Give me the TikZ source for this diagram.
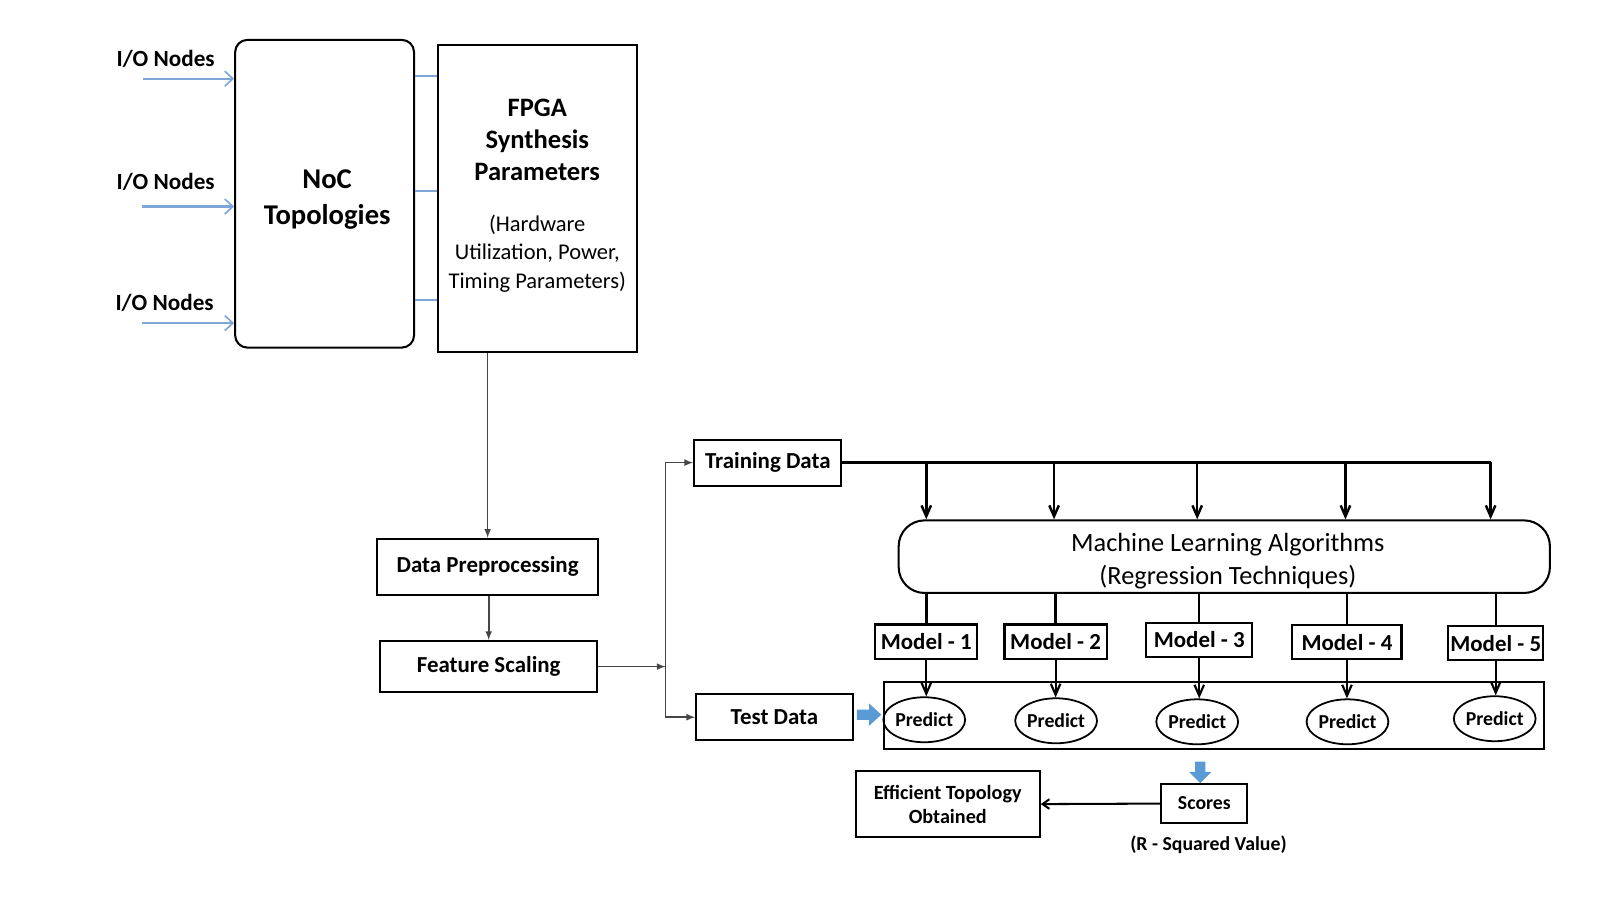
\documentclass[tikz,border=0pt]{standalone}
\usepackage{fontspec}
\setmainfont{Carlito}
\usetikzlibrary{arrows}
\usetikzlibrary{arrows.meta}
\usetikzlibrary{shapes.geometric}
\usetikzlibrary{positioning}
\definecolor{iocolor}{RGB}{127,166,216}
\definecolor{blockblue}{RGB}{91,155,213}

\begin{document}
\begin{tikzpicture}[x=0.75pt,y=0.75pt,yscale=-1,xscale=1,
  plainbox/.style={draw, line width=1.5pt, inner sep=0pt, align=center, font=\fontsize{16.8}{20}\selectfont\bfseries},
  modelbox/.style={plainbox, minimum width=75pt, minimum height=25pt},
  predict/.style={draw, ellipse, line width=1.3pt, minimum width=51pt, minimum height=33pt, inner sep=0pt, font=\fontsize{14.5}{16}\selectfont\bfseries},
  iolabel/.style={inner sep=0.75pt, font=\fontsize{17}{20}\selectfont\bfseries},
  ioarrow/.style={draw=iocolor, line width=1.6pt, -{Straight Barb[length=6pt, width=11pt, line width=1.2pt]}},
  iolink/.style={draw=iocolor, line width=1.5pt},
  grayarrow/.style={draw=gray!55!black, line width=1.2pt, -latex},
  blkarrow/.style={line width=1.8pt, -{Straight Barb[length=8pt, width=7pt]}},
  blkline/.style={line width=1.8pt},
  blockarrow/.style={fill=blockblue, draw=none}]
\path[use as bounding box] (0,0) rectangle (1565,880);

%Shape: Rounded Rect [id:noc]
\node[plainbox, rounded corners=9pt, minimum width=131.25pt, minimum height=225.75pt] (noc) at (317.5,189.5) {};
% Text Node
\node[align=center, inner sep=0.75pt, font=\fontsize{21}{26.5}\selectfont\bfseries] (noctext) at (320,195) {NoC\\Topologies};
%Shape: Rectangle [id:fpga]
\node[plainbox, minimum width=146.25pt, minimum height=225pt] (fpga) at (525.5,194) {};
% Text Node
\node[align=center, inner sep=0.75pt, font=\fontsize{19.5}{23.3}\selectfont\bfseries] (fpgatitle) at (525.5,137) {FPGA\\Synthesis\\Parameters};
% Text Node
\node[align=center, inner sep=0.75pt, font=\fontsize{16.5}{21}\selectfont] (fpgasub) at (525.5,248) {(Hardware\\Utilization, Power,\\Timing Parameters)};

% Text Node
\node[iolabel] (io1) at (162,58) {I/O Nodes};
\node[iolabel] (io2) at (162,178) {I/O Nodes};
\node[iolabel] (io3) at (161,296) {I/O Nodes};
\coordinate (in1) at (140,77);
\coordinate (in2) at (139,202);
\coordinate (in3) at (139,316);
%Straight Lines [id:io]
\draw[ioarrow] (in1) -- (in1 -| noc.west);
\draw[ioarrow] (in2) -- (in2 -| noc.west);
\draw[ioarrow] (in3) -- (in3 -| noc.west);
%Straight Lines [id:links]
\foreach \y in {74,187,293}
  \draw[iolink] (noc.east |- 0,\y) -- (fpga.west |- 0,\y);

%Shape: Rectangle [id:prep]
\node[plainbox, minimum width=162pt, minimum height=41.25pt] (prep) at (477,554.5) {Data Preprocessing};
%Shape: Rectangle [id:scale]
\node[plainbox, minimum width=159pt, minimum height=37.5pt] (scale) at (478,652) {Feature Scaling};
%Shape: Rectangle [id:train]
\node[plainbox, minimum width=108pt, minimum height=33.75pt] (train) at (751,452.5) {Training Data};
%Shape: Rectangle [id:test]
\node[plainbox, minimum width=114.75pt, minimum height=33.75pt] (test) at (757.5,701.5) {Test Data};
\coordinate (split) at (651,652);

%Straight Lines [id:flow]
\draw[grayarrow] (prep.north |- fpga.south) -- (prep.north);
\draw[grayarrow] (scale.north |- prep.south) -- (scale.north);
\draw[grayarrow] (scale.east) -- (split);
\draw[grayarrow] (split) -- (split |- train) -- (train.west);
\draw[grayarrow] (split) -- (split |- test) -- (test.west);

%Shape: Rounded Rect [id:ml]
\node[plainbox, rounded corners=19pt, minimum width=477.75pt, minimum height=53.25pt] (ml) at (1197.5,544.5) {};
% Text Node
\node[align=center, inner sep=0.75pt, font=\fontsize{19.3}{24}\selectfont] (mltext) at (1201,549) {Machine Learning Algorithms\\(Regression Techniques)};

%Shape: Rectangle [id:models]
\node[modelbox] (m1) at (906,627.5) {Model - 1};
\node[modelbox] (m2) at (1032.5,627.5) {Model - 2};
\node[modelbox, minimum width=78pt] (m3) at (1173,626) {Model - 3};
\node[modelbox, minimum width=80pt] (m4) at (1317.5,628) {Model - 4};
\node[modelbox, minimum width=70pt] (m5) at (1463,629) {Model - 5};

%Shape: Rectangle [id:predbox]
\node[draw, line width=1.5pt, minimum width=483.75pt, minimum height=49.5pt] (predbox) at (1187.5,700) {};
%Shape: Ellipse [id:predict]
\node[predict] (p1) at (904,704) {Predict};
\node[predict] (p2) at (1033,705) {Predict};
\node[predict] (p3) at (1171,706) {Predict};
\node[predict] (p4) at (1318,706) {Predict};
\node[predict] (p5) at (1462,703) {Predict};

%Straight Lines [id:bus]
\coordinate (busend) at (1458,451.5);
\draw[blkline] (train.east) -- (train.east -| busend);
\foreach \x in {906,1031,1171,1316,1458}
  \draw[blkarrow] (\x,451.5) -- (ml.north -| \x,0);
\foreach \m in {1,...,5}
  \draw[blkline] (ml.south -| m\m.north) -- (m\m.north);
\foreach \m in {1,...,5}
  \draw[blkarrow, line width=1.6pt] (m\m.south) -- (m\m.south |- p\m.north);

%Shape: Right Arrow [id:blue1]
\fill[blockarrow] (838,694) -- (850,694) -- (850,688) -- (862,699) -- (850,710) -- (850,704) -- (838,704) -- cycle;
%Shape: Down Arrow [id:blue2]
\fill[blockarrow] (1169,745) -- (1179,745) -- (1179,755) -- (1185,755) -- (1174,766) -- (1163,755) -- (1169,755) -- cycle;

%Shape: Rectangle [id:eff]
\node[plainbox, minimum width=135pt, minimum height=48.75pt, font=\fontsize{14.8}{17.5}\selectfont\bfseries] (eff) at (927,786.5) {Efficient Topology\\Obtained};
%Shape: Rectangle [id:scores]
\node[plainbox, minimum width=63pt, minimum height=28.5pt, font=\fontsize{14.5}{17}\selectfont\bfseries] (scores) at (1178,786) {Scores};
\draw[line width=1.5pt, -{Straight Barb[length=5pt, width=7pt]}] (scores.west) -- (eff.east);
% Text Node
\node[inner sep=0.75pt, font=\fontsize{14.5}{17}\selectfont\bfseries] (rsq) at (1182,826) {(R - Squared Value)};

\end{tikzpicture}
\end{document}
